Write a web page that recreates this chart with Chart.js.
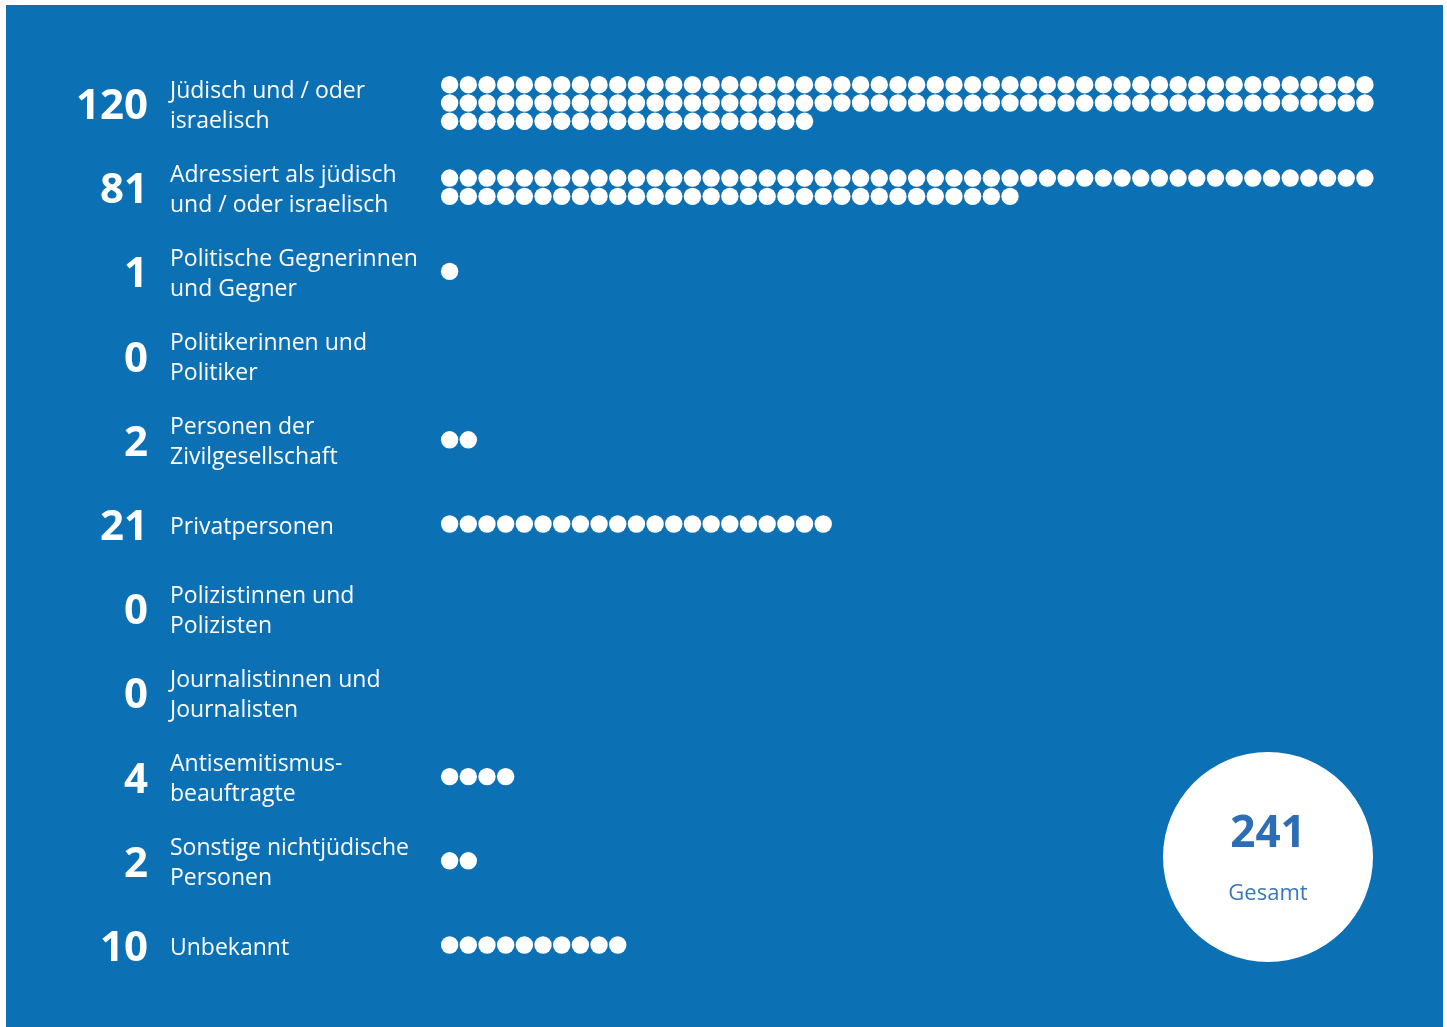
<!DOCTYPE html>
<html lang="de">
<head>
<meta charset="utf-8">
<title>Betroffene</title>
<script src="https://cdn.jsdelivr.net/npm/chart.js@4.4.1/dist/chart.umd.min.js"></script>
<style>
  html, body { margin: 0; padding: 0; background: #ffffff; }
  #wrap { position: absolute; left: 6px; top: 5px; width: 1437px; height: 1022px; background: #0b70b4; }
  canvas { display: block; }
</style>
</head>
<body>
<div id="wrap"><canvas id="myChart" width="1437" height="1022"></canvas></div>
<script>
// categories (label lines) and counts
const categories = [
  ["Jüdisch und / oder", "israelisch"],
  ["Adressiert als jüdisch", "und / oder israelisch"],
  ["Politische Gegnerinnen", "und Gegner"],
  ["Politikerinnen und", "Politiker"],
  ["Personen der", "Zivilgesellschaft"],
  ["Privatpersonen"],
  ["Polizistinnen und", "Polizisten"],
  ["Journalistinnen und", "Journalisten"],
  ["Antisemitismus-", "beauftragte"],
  ["Sonstige nichtjüdische", "Personen"],
  ["Unbekannt"]
];
const counts = [120, 81, 1, 0, 2, 21, 0, 0, 4, 2, 10];
const totalLabel = "Gesamt";

const perRow = 50;
const rowStep = 0.2173; // one dot row, in category units

// one point per person
const dots = [];
counts.forEach((n, k) => {
  const rows = Math.ceil(n / perRow);
  for (let j = 0; j < n; j++) {
    const row = Math.floor(j / perRow);
    dots.push({ x: j % perRow, y: k + (row - (rows - 1) / 2) * rowStep });
  }
});

const total = counts.reduce((a, b) => a + b, 0);

const textPlugin = {
  id: "texts",
  afterDatasetsDraw(chart) {
    const c = chart.ctx;
    const yScale = chart.scales.y;
    c.save();
    c.fillStyle = "#ffffff";
    c.textBaseline = "middle";
    categories.forEach((lines, k) => {
      const yc = yScale.getPixelForValue(k);
      c.font = "bold 42px 'Open Sans'";
      c.textAlign = "right";
      c.fillText(String(counts[k]), 142, yc + 4);
      c.font = "23px 'Open Sans'";
      c.textAlign = "left";
      const lh = 30;
      lines.forEach((t, i) => {
        c.fillText(t, 164, yc + 3 + (i - (lines.length - 1) / 2) * lh);
      });
    });
    // total badge
    const cx = 1262, cy = 852;
    c.beginPath();
    c.arc(cx, cy, 105, 0, Math.PI * 2);
    c.fillStyle = "#ffffff";
    c.fill();
    c.textAlign = "center";
    c.fillStyle = "#2c6db5";
    c.font = "bold 44px 'Open Sans'";
    c.fillText(String(total), cx, cy - 23);
    c.fillStyle = "#3877be";
    c.font = "22px 'Open Sans'";
    c.fillText(totalLabel, cx, cy + 37);
    c.restore();
  }
};

const ctx = document.getElementById("myChart").getContext("2d");
const chart = new Chart(ctx, {
  type: "scatter",
  data: {
    datasets: [{
      data: dots,
      pointRadius: 8.7,
      pointHoverRadius: 8.7,
      pointBackgroundColor: "#ffffff",
      pointBorderWidth: 0,
      borderWidth: 0
    }]
  },
  options: {
    responsive: false,
    animation: false,
    layout: { padding: 0, autoPadding: false },
    plugins: { legend: { display: false }, tooltip: { enabled: false } },
    scales: {
      x: { type: "linear", display: false, min: -23.75, max: 53.18 },
      y: { type: "linear", display: false, reverse: true, min: -1.164, max: 10.974 }
    }
  },
  plugins: [textPlugin]
});
</script>
</body>
</html>
